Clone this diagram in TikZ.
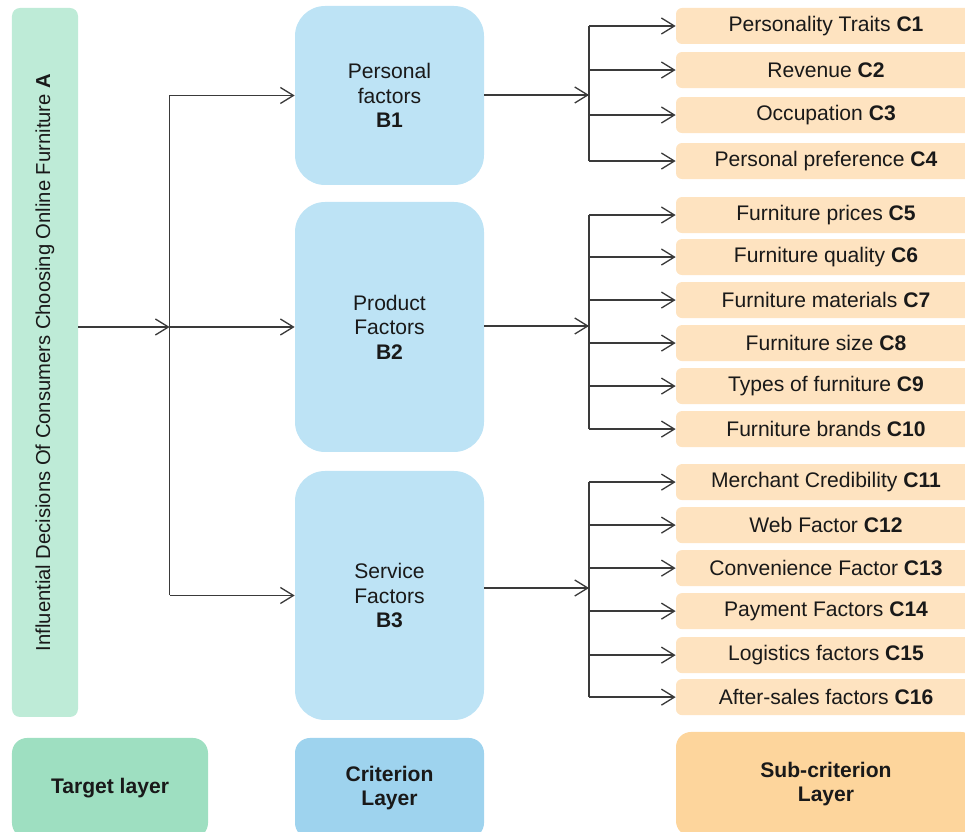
\documentclass[tikz,border=0pt]{standalone}
\usepackage{fontspec}
\setmainfont{Liberation Sans}
\usepackage{tikz}
\usetikzlibrary{arrows.meta}

\definecolor{goalfill}{HTML}{BEEBD7}
\definecolor{critfill}{HTML}{BDE3F5}
\definecolor{subfill}{HTML}{FEE3C0}
\definecolor{goalleg}{HTML}{9EDFC1}
\definecolor{critleg}{HTML}{9ED3EE}
\definecolor{subleg}{HTML}{FDD59C}
\definecolor{wire}{HTML}{3A3A3A}

\begin{document}
\begin{tikzpicture}[
	>={Straight Barb[length=2.6mm,width=3.2mm]},
	every node/.style={font=\fontsize{12}{14}\selectfont, text=black!90},
	line/.style={draw=wire, line width=0.75pt},
	goalbox/.style={fill=goalfill, rounded corners=0.16cm},
	critbox/.style={fill=critfill, rounded corners=0.6cm, minimum width=3.78cm, align=center},
	subbox/.style={fill=subfill, rounded corners=0.12cm, minimum width=6cm, minimum height=0.72cm},
	legbox/.style={rounded corners=0.3cm, minimum height=2cm, align=center, font=\fontsize{12}{14}\selectfont\bfseries}
]
	\useasboundingbox (0,0) rectangle (19.3,-16.64);
	\clip (0,0) rectangle (19.3,-16.64);

	%cel
	\node[goalbox, minimum width=14.18cm, minimum height=1.32cm, rotate=90,
		font=\fontsize{11.5}{14}\selectfont] (A) at (0.9,-7.25)
		{Influential Decisions Of Consumers Choosing Online Furniture \textbf{A}};

	%kryteria
	\node[critbox, minimum height=3.58cm] (B1) at (7.79,-1.91) {Personal\\factors\\\textbf{B1}};
	\node[critbox, minimum height=5cm] (B2) at (7.79,-6.54) {Product\\Factors\\\textbf{B2}};
	\node[critbox, minimum height=4.98cm] (B3) at (7.79,-11.91) {Service\\Factors\\\textbf{B3}};

	%podkryteria
	\foreach \n/\y/\t in {1/26/Personality Traits, 2/70/Revenue, 3/115/Occupation,
		4/161/Personal preference, 5/215/Furniture prices, 6/257/Furniture quality,
		7/300/Furniture materials, 8/343/Furniture size, 9/386/Types of furniture,
		10/429/Furniture brands, 11/482/Merchant Credibility, 12/525/Web Factor,
		13/568/Convenience Factor, 14/611/Payment Factors, 15/655/Logistics factors,
		16/697/After-sales factors}
		\node[subbox] (C\n) at (16.52,-\y*0.02) {\t{} \textbf{C\n}};

	%legenda
	\node[legbox, fill=goalleg, minimum width=3.92cm] (LA) at (2.2,-15.76) {Target layer};
	\node[legbox, fill=critleg, minimum width=3.78cm] (LB) at (7.79,-15.76) {Criterion\\Layer};
	\node[legbox, fill=subleg, minimum width=6cm, minimum height=2.08cm] (LC) at (16.52,-15.68) {Sub-criterion\\Layer};

	%strzalki A-B
	\path (B2.west) ++(-2.5,0) coordinate (jA);
	\draw[line,->] (A.south |- jA) -- (jA);
	\draw[line] (jA |- B1) -- (jA |- B3);
	\foreach \b in {B1,B2,B3}
		\draw[line,->] (jA |- \b) -- (\b);

	%strzalki B-C
	\foreach \b/\first/\last/\y in {B1/1/4/1.9, B2/5/10/6.52, B3/11/16/11.76}{
		\coordinate (j\b) at (11.78,-\y);
		\draw[line,->] (\b.east |- j\b) -- (j\b);
		\draw[line] (j\b |- C\first) -- (j\b |- C\last);
		\foreach \c in {\first,...,\last}
			\draw[line,->] (j\b |- C\c) -- (C\c);
	}
\end{tikzpicture}
\end{document}
